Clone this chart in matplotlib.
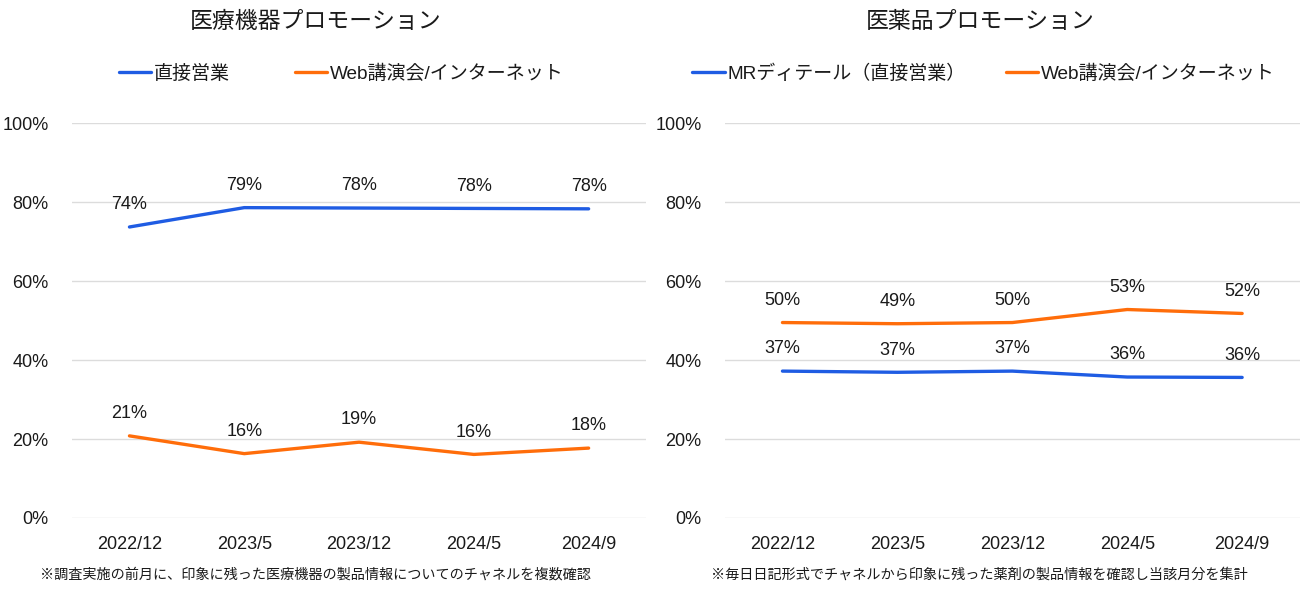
import matplotlib.pyplot as plt

plt.rcParams['font.family'] = ['Liberation Sans', 'Noto Sans CJK JP', 'DejaVu Sans']

categories = ['2022/12', '2023/5', '2023/12', '2024/5', '2024/9']

# 医療機器
device_direct = [73.7, 78.6, 78.5, 78.4, 78.3]
device_web = [20.8, 16.3, 19.2, 16.1, 17.7]
device_direct_labels = ['74%', '79%', '78%', '78%', '78%']
device_web_labels = ['21%', '16%', '19%', '16%', '18%']

# 医薬品
drug_mr = [37.2, 36.9, 37.2, 35.7, 35.6]
drug_web = [49.5, 49.2, 49.5, 52.8, 51.8]
drug_mr_labels = ['37%', '37%', '37%', '36%', '36%']
drug_web_labels = ['50%', '49%', '50%', '53%', '52%']

yticks = [0, 20, 40, 60, 80, 100]
ytick_labels = ['0%', '20%', '40%', '60%', '80%', '100%']

blue = '#1F5CE3'
orange = '#FF6D0A'
grid_c = '#DCDCDC'
txt = '#1a1a1a'

fig = plt.figure(figsize=(13.03, 5.92), dpi=100)
ax1 = fig.add_axes([0.0553, 0.125, 0.4405, 0.667])
ax2 = fig.add_axes([0.5564, 0.125, 0.441, 0.667])


def draw(ax, s1, s2, l1, l2, name1, name2, title, note, title_x, legend_x, colsp):
    x = range(len(categories))
    ax.plot(x, s1, color=blue, lw=2.4, solid_capstyle='round', label=name1)
    ax.plot(x, s2, color=orange, lw=2.4, solid_capstyle='round', label=name2)
    for i in x:
        ax.annotate(l1[i], (i, s1[i]), xytext=(0, 16), textcoords='offset points',
                    ha='center', va='center', fontsize=13, color=txt)
        ax.annotate(l2[i], (i, s2[i]), xytext=(0, 16), textcoords='offset points',
                    ha='center', va='center', fontsize=13, color=txt)
    ax.set_xlim(-0.5, 4.5)
    ax.set_ylim(0, 100)
    ax.set_yticks(yticks)
    ax.set_yticklabels(ytick_labels, fontsize=13, color=txt)
    ax.set_xticks(list(x))
    ax.set_xticklabels(categories, fontsize=13, color=txt)
    ax.tick_params(length=0, axis='y', pad=17)
    ax.tick_params(length=0, axis='x', pad=13)
    ax.grid(axis='y', color=grid_c, lw=1)
    ax.set_axisbelow(True)
    for sp in ax.spines.values():
        sp.set_visible(False)
    fig.text(title_x, 0.964, title, ha='center', va='center', fontsize=16.5, color=txt)
    ax.legend(loc='center', bbox_to_anchor=(legend_x, 1.125), ncol=2, frameon=False,
              fontsize=13.7, handlelength=1.7, handletextpad=0.15, columnspacing=colsp,
              labelcolor=txt)
    fig.text(title_x, 0.018, note, ha='center', va='bottom', fontsize=10.2, color=txt)


draw(ax1, device_direct, device_web, device_direct_labels, device_web_labels,
     '直接営業', 'Web講演会/インターネット', '医療機器プロモーション',
     '※調査実施の前月に、印象に残った医療機器の製品情報についてのチャネルを複数確認',
     0.242, 0.469, 3.4)
draw(ax2, drug_mr, drug_web, drug_mr_labels, drug_web_labels,
     'MRディテール（直接営業）', 'Web講演会/インターネット', '医薬品プロモーション',
     '※毎日日記形式でチャネルから印象に残った薬剤の製品情報を確認し当該月分を集計',
     0.752, 0.45, 2.1)

fig.savefig('out.png', dpi=100)
